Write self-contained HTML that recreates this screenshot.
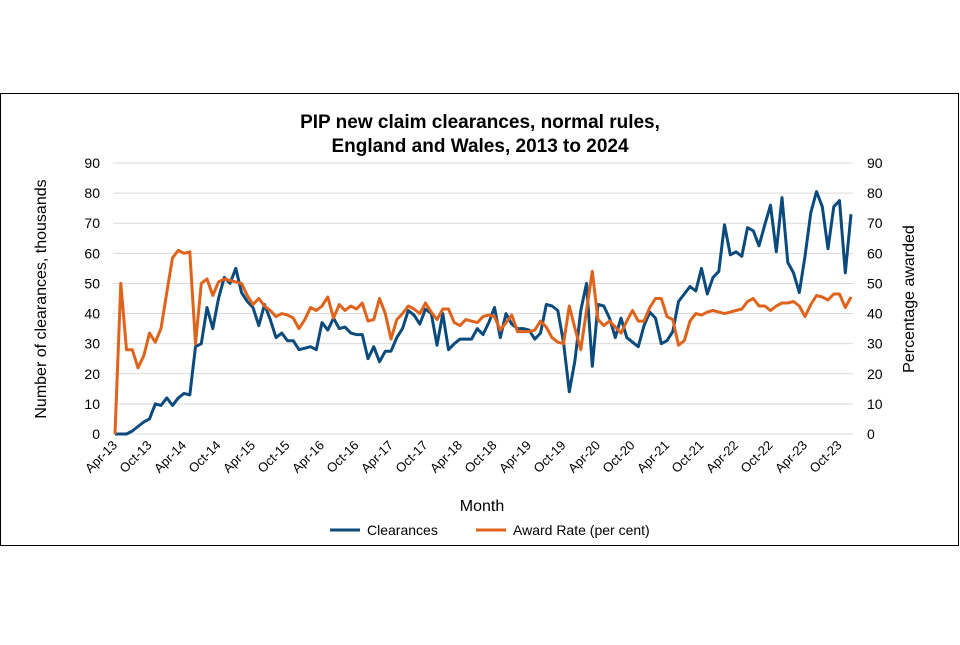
<!DOCTYPE html>
<html><head><meta charset="utf-8"><style>
body{margin:0;background:#fff;}
svg{font-family:"Liberation Sans",Arial,sans-serif;}
</style></head><body>
<svg width="960" height="640" viewBox="0 0 960 640">
<rect x="0.5" y="93.5" width="958" height="452" fill="#fff" stroke="#000" stroke-width="1"/>
<text x="480" y="128" text-anchor="middle" font-size="19" font-weight="bold">PIP new claim clearances, normal rules,</text>
<text x="480" y="152" text-anchor="middle" font-size="19" font-weight="bold">England and Wales, 2013 to 2024</text>
<g id="grid"></g>
<g id="ylab"></g>
<g id="xlab"></g>
<g id="series"></g>
<text transform="translate(46,299) rotate(-90)" text-anchor="middle" font-size="16">Number of clearances, thousands</text>
<text transform="translate(914,299) rotate(-90)" text-anchor="middle" font-size="16">Percentage awarded</text>
<text x="482" y="511" text-anchor="middle" font-size="16">Month</text>
<g>
<line x1="330" y1="530" x2="360" y2="530" stroke="#0b4a7d" stroke-width="3"/>
<text x="367" y="535" font-size="14">Clearances</text>
<line x1="476" y1="530" x2="506" y2="530" stroke="#e0631c" stroke-width="3"/>
<text x="513" y="535" font-size="14">Award Rate (per cent)</text>
</g>
</svg>
<script>
const yTicks=[0,10,20,30,40,50,60,70,80,90];
const monthNames=["Apr","Oct"];
const clearances=[0,0,0,1,2.5,4,5,10,9.5,12,9.5,12,13.5,13,29,30,42,35,45,52,50,55,47,44,42,36,43,38,32,33.5,31,31,28,
28.5,29,28,37,34.5,38.5,35,35.5,33.5,33,33,25,29,24,27.5,27.5,32,35,41,39.5,36.5,41.5,40,29.5,40,28,30,31.5,31.5,31.5,35,
33,37,42,32,40,36.5,35,35,34.5,31.5,33.5,43,42.5,41,30.5,14,24.5,41,50,22.5,43,42.5,38.5,32,38.5,32,30.5,29,36,40.5,38.5,30,31,34,44,
46.5,49,47.5,55,46.5,52,54,69.5,59.5,60.5,59,68.5,67.5,62.5,69.5,76,60.5,78.5,57,53.5,47,59,73.5,80.5,75.5,61.5,75.5,77.5,53.5,73];
const awardRate=[0,50,28,28,22,26,33.5,30.5,35,47,58.5,61,60,60.5,30,50,51.5,46,50.5,51.5,51,50.5,50,46,43,45,42.5,41,39,40,39.5,38.5,35,
38,42,41,42.5,45.5,38.5,43,41,42.5,41.5,43.5,37.5,38,45,40,31.5,38,40,42.5,41.5,40,43.5,40.5,38,41.5,41.5,37,36,38,37.5,37,
39,39.5,39,34.5,37,39.5,34,34,34,34.5,37.5,35.5,32,30.5,30,42.5,35,28,41,54,38,36,37.5,35.5,33.5,37.5,41,37.5,37.5,42,45,45,39,38,29.5,
31,37.5,40,39.5,40.5,41,40.5,40,40.5,41,41.5,44,45,42.5,42.5,41,42.5,43.5,43.5,44,42.5,39,43,46,45.5,44.5,46.5,46.5,42,45.5];
const NS="http://www.w3.org/2000/svg";
const X0=115,X1=851,Y0=434,Y90=163,PL=113,PR=853;
const n=clearances.length;
function xs(i){return X0+(X1-X0)*i/(n-1);}
function ys(v){return Y0-(Y0-Y90)*v/90;}
function mk(tag,attrs,parent){const e=document.createElementNS(NS,tag);for(const k in attrs)e.setAttribute(k,attrs[k]);parent.appendChild(e);return e;}
const grid=document.getElementById('grid'),ylab=document.getElementById('ylab'),xlab=document.getElementById('xlab'),ser=document.getElementById('series');
yTicks.forEach(t=>{
  const l=mk('line',{x1:PL,x2:PR,y1:ys(t),y2:ys(t),stroke:'#d9d9d9','stroke-width':1},grid);
  
  
  const a=mk('text',{x:100,y:ys(t)+5,'text-anchor':'end','font-size':14},ylab);a.textContent=t;
  
  
  const b=mk('text',{x:867,y:ys(t)+5,'text-anchor':'start','font-size':14},ylab);b.textContent=t;
  
  
});
for(let i=0;i<n;i+=6){
  const yr=13+Math.floor((i+3)/12);
  const lab=monthNames[(i/6)%2]+"-"+String(yr).padStart(2,'0');
  const x=xs(i)+3;
  const t=mk('text',{x:x,y:446,'text-anchor':'end','font-size':13,transform:`rotate(-45 ${x} 446)`},xlab);
  t.textContent=lab;
  
  
}
function line(arr,color,name){
  const d=arr.map((v,i)=>(i?'L':'M')+xs(i).toFixed(1)+' '+ys(v).toFixed(1)).join(' ');
  const p=mk('path',{d:d,fill:'none',stroke:color,'stroke-width':3,'stroke-linejoin':'round'},ser);
  
  
}
line(clearances,'#0b4a7d','clearances-line');
line(awardRate,'#e0631c','award-rate-line');
</script>
</body></html>
